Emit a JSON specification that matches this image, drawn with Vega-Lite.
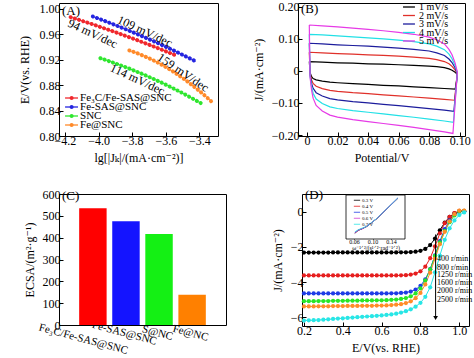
{
"$schema":"https://vega.github.io/schema/vega-lite/v6.json",
"padding":{"left":17,"top":0,"right":0,"bottom":0},
"spacing":22,
"resolve":{"scale":{"color":"independent","stroke":"independent"},"legend":{"color":"independent","stroke":"independent"}},
"config":{"font":"Times New Roman, Liberation Serif, DejaVu Serif, serif","view":{"stroke":"#000","strokeWidth":1},
"axis":{"grid":false,"domain":false,"tickSize":-4,"tickColor":"#000","labelColor":"#000","titleColor":"#000","labelFontSize":12,"titleFontSize":12,"titleFontWeight":"normal","labelPadding":3,"titlePadding":6,"labelOverlap":false,"labelFont":"Times New Roman, Liberation Serif, DejaVu Serif, serif","titleFont":"Times New Roman, Liberation Serif, DejaVu Serif, serif"},
"legend":{"labelFont":"Times New Roman, Liberation Serif, DejaVu Serif, serif","labelColor":"#000"},
"text":{"font":"Times New Roman, Liberation Serif, DejaVu Serif, serif"},
"title":{"font":"Times New Roman, Liberation Serif, DejaVu Serif, serif","fontWeight":"normal","fontSize":13,"color":"#000","frame":"group"}},
"datasets":{
"tafel":[
{"s":"Fe₃C/Fe-SAS@SNC","x":-4.166,"y":0.9867},{"s":"Fe₃C/Fe-SAS@SNC","x":-4.124,"y":0.9832},{"s":"Fe₃C/Fe-SAS@SNC","x":-4.083,"y":0.9796},{"s":"Fe₃C/Fe-SAS@SNC","x":-4.041,"y":0.976},{"s":"Fe₃C/Fe-SAS@SNC","x":-3.999,"y":0.9722},{"s":"Fe₃C/Fe-SAS@SNC","x":-3.958,"y":0.9684},{"s":"Fe₃C/Fe-SAS@SNC","x":-3.916,"y":0.9646},{"s":"Fe₃C/Fe-SAS@SNC","x":-3.874,"y":0.9606},{"s":"Fe₃C/Fe-SAS@SNC","x":-3.833,"y":0.9567},{"s":"Fe₃C/Fe-SAS@SNC","x":-3.791,"y":0.9526},{"s":"Fe₃C/Fe-SAS@SNC","x":-3.749,"y":0.9484},{"s":"Fe₃C/Fe-SAS@SNC","x":-3.708,"y":0.9442},{"s":"Fe₃C/Fe-SAS@SNC","x":-3.666,"y":0.94},{"s":"Fe₃C/Fe-SAS@SNC","x":-3.624,"y":0.9356},{"s":"Fe₃C/Fe-SAS@SNC","x":-3.583,"y":0.9312},{"s":"Fe₃C/Fe-SAS@SNC","x":-3.541,"y":0.9267},
{"s":"Fe-SAS@SNC","x":-4.034,"y":0.9878},{"s":"Fe-SAS@SNC","x":-3.993,"y":0.9838},{"s":"Fe-SAS@SNC","x":-3.953,"y":0.9797},{"s":"Fe-SAS@SNC","x":-3.912,"y":0.9755},{"s":"Fe-SAS@SNC","x":-3.871,"y":0.9712},{"s":"Fe-SAS@SNC","x":-3.83,"y":0.9668},{"s":"Fe-SAS@SNC","x":-3.79,"y":0.9623},{"s":"Fe-SAS@SNC","x":-3.749,"y":0.9577},{"s":"Fe-SAS@SNC","x":-3.708,"y":0.953},{"s":"Fe-SAS@SNC","x":-3.667,"y":0.9483},{"s":"Fe-SAS@SNC","x":-3.627,"y":0.9434},{"s":"Fe-SAS@SNC","x":-3.586,"y":0.9384},{"s":"Fe-SAS@SNC","x":-3.545,"y":0.9333},{"s":"Fe-SAS@SNC","x":-3.505,"y":0.9281},{"s":"Fe-SAS@SNC","x":-3.464,"y":0.9228},{"s":"Fe-SAS@SNC","x":-3.423,"y":0.9174},
{"s":"SNC","x":-3.989,"y":0.9222},{"s":"SNC","x":-3.949,"y":0.9187},{"s":"SNC","x":-3.91,"y":0.915},{"s":"SNC","x":-3.87,"y":0.9112},{"s":"SNC","x":-3.83,"y":0.9072},{"s":"SNC","x":-3.79,"y":0.903},{"s":"SNC","x":-3.751,"y":0.8987},{"s":"SNC","x":-3.711,"y":0.8941},{"s":"SNC","x":-3.671,"y":0.8894},{"s":"SNC","x":-3.631,"y":0.8846},{"s":"SNC","x":-3.592,"y":0.8796},{"s":"SNC","x":-3.552,"y":0.8743},{"s":"SNC","x":-3.512,"y":0.869},{"s":"SNC","x":-3.473,"y":0.8634},{"s":"SNC","x":-3.433,"y":0.8577},{"s":"SNC","x":-3.393,"y":0.8518},
{"s":"Fe@SNC","x":-3.817,"y":0.9344},{"s":"Fe@SNC","x":-3.785,"y":0.9315},{"s":"Fe@SNC","x":-3.752,"y":0.9282},{"s":"Fe@SNC","x":-3.72,"y":0.9245},{"s":"Fe@SNC","x":-3.687,"y":0.9206},{"s":"Fe@SNC","x":-3.655,"y":0.9163},{"s":"Fe@SNC","x":-3.622,"y":0.9116},{"s":"Fe@SNC","x":-3.59,"y":0.9066},{"s":"Fe@SNC","x":-3.557,"y":0.9013},{"s":"Fe@SNC","x":-3.525,"y":0.8956},{"s":"Fe@SNC","x":-3.492,"y":0.8896},{"s":"Fe@SNC","x":-3.46,"y":0.8832},{"s":"Fe@SNC","x":-3.427,"y":0.8765},{"s":"Fe@SNC","x":-3.395,"y":0.8695},{"s":"Fe@SNC","x":-3.362,"y":0.8621},{"s":"Fe@SNC","x":-3.33,"y":0.8544}
],
"legA":[{"s":"Fe₃C/Fe-SAS@SNC"},{"s":"Fe-SAS@SNC"},{"s":"SNC"},{"s":"Fe@SNC"}],
"legB":[{"r":"1 mV/s"},{"r":"2 mV/s"},{"r":"3 mV/s"},{"r":"4 mV/s"},{"r":"5 mV/s"}],
"notesA":[{"t":"109 mV/dec","x":-3.724,"y":0.9646},{"t":"94 mV/dec","x":-4.034,"y":0.9611},{"t":"114 mV/dec","x":-3.768,"y":0.889},{"t":"159 mV/dec","x":-3.497,"y":0.8998}],
"cv":[
{"r":"1 mV/s","o":1,"v":0.0015,"j":0.029},{"r":"1 mV/s","o":2,"v":0.01,"j":0.027},{"r":"1 mV/s","o":3,"v":0.02,"j":0.025},{"r":"1 mV/s","o":4,"v":0.03,"j":0.024},{"r":"1 mV/s","o":5,"v":0.04,"j":0.022},{"r":"1 mV/s","o":6,"v":0.05,"j":0.021},{"r":"1 mV/s","o":7,"v":0.06,"j":0.019},{"r":"1 mV/s","o":8,"v":0.07,"j":0.017},{"r":"1 mV/s","o":9,"v":0.08,"j":0.015},{"r":"1 mV/s","o":10,"v":0.085,"j":0.013},{"r":"1 mV/s","o":11,"v":0.09,"j":0.01},{"r":"1 mV/s","o":12,"v":0.093,"j":0.006},{"r":"1 mV/s","o":13,"v":0.095,"j":0.002},{"r":"1 mV/s","o":14,"v":0.097,"j":-0.004},{"r":"1 mV/s","o":15,"v":0.0985,"j":-0.012},
{"r":"1 mV/s","o":16,"v":0.0971,"j":-0.057},{"r":"1 mV/s","o":17,"v":0.09,"j":-0.055},{"r":"1 mV/s","o":18,"v":0.08,"j":-0.052},{"r":"1 mV/s","o":19,"v":0.07,"j":-0.05},{"r":"1 mV/s","o":20,"v":0.06,"j":-0.047},{"r":"1 mV/s","o":21,"v":0.05,"j":-0.045},{"r":"1 mV/s","o":22,"v":0.04,"j":-0.042},{"r":"1 mV/s","o":23,"v":0.03,"j":-0.04},{"r":"1 mV/s","o":24,"v":0.02,"j":-0.037},{"r":"1 mV/s","o":25,"v":0.015,"j":-0.035},{"r":"1 mV/s","o":26,"v":0.01,"j":-0.032},{"r":"1 mV/s","o":27,"v":0.006,"j":-0.028},{"r":"1 mV/s","o":28,"v":0.004,"j":-0.024},{"r":"1 mV/s","o":29,"v":0.003,"j":-0.018},{"r":"1 mV/s","o":30,"v":0.002,"j":-0.005},{"r":"1 mV/s","o":31,"v":0.0015,"j":0.029},
{"r":"2 mV/s","o":1,"v":0.0015,"j":0.058},{"r":"2 mV/s","o":2,"v":0.01,"j":0.056},{"r":"2 mV/s","o":3,"v":0.02,"j":0.054},{"r":"2 mV/s","o":4,"v":0.03,"j":0.052},{"r":"2 mV/s","o":5,"v":0.04,"j":0.05},{"r":"2 mV/s","o":6,"v":0.05,"j":0.048},{"r":"2 mV/s","o":7,"v":0.06,"j":0.046},{"r":"2 mV/s","o":8,"v":0.07,"j":0.043},{"r":"2 mV/s","o":9,"v":0.08,"j":0.039},{"r":"2 mV/s","o":10,"v":0.085,"j":0.035},{"r":"2 mV/s","o":11,"v":0.09,"j":0.029},{"r":"2 mV/s","o":12,"v":0.093,"j":0.022},{"r":"2 mV/s","o":13,"v":0.095,"j":0.014},{"r":"2 mV/s","o":14,"v":0.097,"j":0.003},{"r":"2 mV/s","o":15,"v":0.0985,"j":-0.01},
{"r":"2 mV/s","o":16,"v":0.0966,"j":-0.0915},{"r":"2 mV/s","o":17,"v":0.09,"j":-0.0888},{"r":"2 mV/s","o":18,"v":0.08,"j":-0.0848},{"r":"2 mV/s","o":19,"v":0.07,"j":-0.0815},{"r":"2 mV/s","o":20,"v":0.06,"j":-0.0778},{"r":"2 mV/s","o":21,"v":0.05,"j":-0.0748},{"r":"2 mV/s","o":22,"v":0.04,"j":-0.071},{"r":"2 mV/s","o":23,"v":0.03,"j":-0.068},{"r":"2 mV/s","o":24,"v":0.02,"j":-0.0638},{"r":"2 mV/s","o":25,"v":0.015,"j":-0.0608},{"r":"2 mV/s","o":26,"v":0.01,"j":-0.0553},{"r":"2 mV/s","o":27,"v":0.006,"j":-0.048},{"r":"2 mV/s","o":28,"v":0.004,"j":-0.0393},{"r":"2 mV/s","o":29,"v":0.003,"j":-0.0285},{"r":"2 mV/s","o":30,"v":0.002,"j":-0.0088},{"r":"2 mV/s","o":31,"v":0.0015,"j":0.058},
{"r":"3 mV/s","o":1,"v":0.0015,"j":0.086},{"r":"3 mV/s","o":2,"v":0.01,"j":0.084},{"r":"3 mV/s","o":3,"v":0.02,"j":0.081},{"r":"3 mV/s","o":4,"v":0.03,"j":0.079},{"r":"3 mV/s","o":5,"v":0.04,"j":0.077},{"r":"3 mV/s","o":6,"v":0.05,"j":0.074},{"r":"3 mV/s","o":7,"v":0.06,"j":0.071},{"r":"3 mV/s","o":8,"v":0.07,"j":0.067},{"r":"3 mV/s","o":9,"v":0.08,"j":0.062},{"r":"3 mV/s","o":10,"v":0.085,"j":0.056},{"r":"3 mV/s","o":11,"v":0.09,"j":0.048},{"r":"3 mV/s","o":12,"v":0.093,"j":0.037},{"r":"3 mV/s","o":13,"v":0.095,"j":0.026},{"r":"3 mV/s","o":14,"v":0.097,"j":0.01},{"r":"3 mV/s","o":15,"v":0.0985,"j":-0.008},
{"r":"3 mV/s","o":16,"v":0.0962,"j":-0.126},{"r":"3 mV/s","o":17,"v":0.09,"j":-0.1225},{"r":"3 mV/s","o":18,"v":0.08,"j":-0.1175},{"r":"3 mV/s","o":19,"v":0.07,"j":-0.113},{"r":"3 mV/s","o":20,"v":0.06,"j":-0.1085},{"r":"3 mV/s","o":21,"v":0.05,"j":-0.1045},{"r":"3 mV/s","o":22,"v":0.04,"j":-0.1},{"r":"3 mV/s","o":23,"v":0.03,"j":-0.096},{"r":"3 mV/s","o":24,"v":0.02,"j":-0.0905},{"r":"3 mV/s","o":25,"v":0.015,"j":-0.0865},{"r":"3 mV/s","o":26,"v":0.01,"j":-0.0785},{"r":"3 mV/s","o":27,"v":0.006,"j":-0.068},{"r":"3 mV/s","o":28,"v":0.004,"j":-0.0545},{"r":"3 mV/s","o":29,"v":0.003,"j":-0.039},{"r":"3 mV/s","o":30,"v":0.002,"j":-0.0125},{"r":"3 mV/s","o":31,"v":0.0015,"j":0.086},
{"r":"4 mV/s","o":1,"v":0.0015,"j":0.114},{"r":"4 mV/s","o":2,"v":0.01,"j":0.112},{"r":"4 mV/s","o":3,"v":0.02,"j":0.109},{"r":"4 mV/s","o":4,"v":0.03,"j":0.106},{"r":"4 mV/s","o":5,"v":0.04,"j":0.103},{"r":"4 mV/s","o":6,"v":0.05,"j":0.1},{"r":"4 mV/s","o":7,"v":0.06,"j":0.096},{"r":"4 mV/s","o":8,"v":0.07,"j":0.091},{"r":"4 mV/s","o":9,"v":0.08,"j":0.084},{"r":"4 mV/s","o":10,"v":0.085,"j":0.077},{"r":"4 mV/s","o":11,"v":0.09,"j":0.066},{"r":"4 mV/s","o":12,"v":0.093,"j":0.052},{"r":"4 mV/s","o":13,"v":0.095,"j":0.038},{"r":"4 mV/s","o":14,"v":0.097,"j":0.017},{"r":"4 mV/s","o":15,"v":0.0985,"j":-0.006},
{"r":"4 mV/s","o":16,"v":0.0959,"j":-0.1605},{"r":"4 mV/s","o":17,"v":0.09,"j":-0.1563},{"r":"4 mV/s","o":18,"v":0.08,"j":-0.1503},{"r":"4 mV/s","o":19,"v":0.07,"j":-0.1445},{"r":"4 mV/s","o":20,"v":0.06,"j":-0.1393},{"r":"4 mV/s","o":21,"v":0.05,"j":-0.1343},{"r":"4 mV/s","o":22,"v":0.04,"j":-0.129},{"r":"4 mV/s","o":23,"v":0.03,"j":-0.124},{"r":"4 mV/s","o":24,"v":0.02,"j":-0.1173},{"r":"4 mV/s","o":25,"v":0.015,"j":-0.1123},{"r":"4 mV/s","o":26,"v":0.01,"j":-0.1018},{"r":"4 mV/s","o":27,"v":0.006,"j":-0.088},{"r":"4 mV/s","o":28,"v":0.004,"j":-0.0698},{"r":"4 mV/s","o":29,"v":0.003,"j":-0.0495},{"r":"4 mV/s","o":30,"v":0.002,"j":-0.0163},{"r":"4 mV/s","o":31,"v":0.0015,"j":0.114},
{"r":"5 mV/s","o":1,"v":0.0015,"j":0.143},{"r":"5 mV/s","o":2,"v":0.01,"j":0.14},{"r":"5 mV/s","o":3,"v":0.02,"j":0.137},{"r":"5 mV/s","o":4,"v":0.03,"j":0.133},{"r":"5 mV/s","o":5,"v":0.04,"j":0.129},{"r":"5 mV/s","o":6,"v":0.05,"j":0.125},{"r":"5 mV/s","o":7,"v":0.06,"j":0.12},{"r":"5 mV/s","o":8,"v":0.07,"j":0.114},{"r":"5 mV/s","o":9,"v":0.08,"j":0.105},{"r":"5 mV/s","o":10,"v":0.085,"j":0.097},{"r":"5 mV/s","o":11,"v":0.09,"j":0.084},{"r":"5 mV/s","o":12,"v":0.093,"j":0.067},{"r":"5 mV/s","o":13,"v":0.095,"j":0.05},{"r":"5 mV/s","o":14,"v":0.097,"j":0.025},{"r":"5 mV/s","o":15,"v":0.0985,"j":-0.004},
{"r":"5 mV/s","o":16,"v":0.0956,"j":-0.195},{"r":"5 mV/s","o":17,"v":0.09,"j":-0.19},{"r":"5 mV/s","o":18,"v":0.08,"j":-0.183},{"r":"5 mV/s","o":19,"v":0.07,"j":-0.176},{"r":"5 mV/s","o":20,"v":0.06,"j":-0.17},{"r":"5 mV/s","o":21,"v":0.05,"j":-0.164},{"r":"5 mV/s","o":22,"v":0.04,"j":-0.158},{"r":"5 mV/s","o":23,"v":0.03,"j":-0.152},{"r":"5 mV/s","o":24,"v":0.02,"j":-0.144},{"r":"5 mV/s","o":25,"v":0.015,"j":-0.138},{"r":"5 mV/s","o":26,"v":0.01,"j":-0.125},{"r":"5 mV/s","o":27,"v":0.006,"j":-0.108},{"r":"5 mV/s","o":28,"v":0.004,"j":-0.085},{"r":"5 mV/s","o":29,"v":0.003,"j":-0.06},{"r":"5 mV/s","o":30,"v":0.002,"j":-0.02},{"r":"5 mV/s","o":31,"v":0.0015,"j":0.143}
],
"ecsa":[{"c":"Fe₃C/Fe-SAS@SNC","v":535},{"c":"Fe-SAS@SNC","v":475},{"c":"S@NC","v":417},{"c":"Fe@NC","v":139}],
"lsv":[
{"r":"400","e":0.2,"j":-2.33},{"r":"400","e":0.225,"j":-2.33},{"r":"400","e":0.25,"j":-2.33},{"r":"400","e":0.275,"j":-2.33},{"r":"400","e":0.3,"j":-2.33},{"r":"400","e":0.325,"j":-2.33},{"r":"400","e":0.35,"j":-2.32},{"r":"400","e":0.375,"j":-2.32},{"r":"400","e":0.4,"j":-2.32},{"r":"400","e":0.425,"j":-2.32},{"r":"400","e":0.45,"j":-2.32},{"r":"400","e":0.475,"j":-2.32},{"r":"400","e":0.5,"j":-2.32},{"r":"400","e":0.525,"j":-2.32},{"r":"400","e":0.55,"j":-2.32},{"r":"400","e":0.575,"j":-2.32},{"r":"400","e":0.6,"j":-2.32},{"r":"400","e":0.625,"j":-2.32},{"r":"400","e":0.65,"j":-2.32},{"r":"400","e":0.675,"j":-2.32},{"r":"400","e":0.7,"j":-2.31},{"r":"400","e":0.725,"j":-2.31},{"r":"400","e":0.75,"j":-2.3},{"r":"400","e":0.775,"j":-2.28},{"r":"400","e":0.8,"j":-2.23},{"r":"400","e":0.825,"j":-2.12},{"r":"400","e":0.85,"j":-1.9},{"r":"400","e":0.875,"j":-1.53},{"r":"400","e":0.9,"j":-1.06},{"r":"400","e":0.925,"j":-0.62},{"r":"400","e":0.95,"j":-0.3},{"r":"400","e":0.975,"j":-0.1},{"r":"400","e":1.0,"j":0.0},{"r":"400","e":1.025,"j":0.02},
{"r":"800","e":0.2,"j":-3.63},{"r":"800","e":0.225,"j":-3.63},{"r":"800","e":0.25,"j":-3.63},{"r":"800","e":0.275,"j":-3.63},{"r":"800","e":0.3,"j":-3.63},{"r":"800","e":0.325,"j":-3.63},{"r":"800","e":0.35,"j":-3.63},{"r":"800","e":0.375,"j":-3.63},{"r":"800","e":0.4,"j":-3.63},{"r":"800","e":0.425,"j":-3.63},{"r":"800","e":0.45,"j":-3.63},{"r":"800","e":0.475,"j":-3.63},{"r":"800","e":0.5,"j":-3.63},{"r":"800","e":0.525,"j":-3.63},{"r":"800","e":0.55,"j":-3.63},{"r":"800","e":0.575,"j":-3.63},{"r":"800","e":0.6,"j":-3.63},{"r":"800","e":0.625,"j":-3.63},{"r":"800","e":0.65,"j":-3.63},{"r":"800","e":0.675,"j":-3.63},{"r":"800","e":0.7,"j":-3.62},{"r":"800","e":0.725,"j":-3.61},{"r":"800","e":0.75,"j":-3.58},{"r":"800","e":0.775,"j":-3.52},{"r":"800","e":0.8,"j":-3.39},{"r":"800","e":0.825,"j":-3.13},{"r":"800","e":0.85,"j":-2.65},{"r":"800","e":0.875,"j":-1.97},{"r":"800","e":0.9,"j":-1.23},{"r":"800","e":0.925,"j":-0.66},{"r":"800","e":0.95,"j":-0.3},{"r":"800","e":0.975,"j":-0.08},{"r":"800","e":1.0,"j":0.04},{"r":"800","e":1.025,"j":0.04},
{"r":"1250","e":0.2,"j":-4.65},{"r":"1250","e":0.225,"j":-4.65},{"r":"1250","e":0.25,"j":-4.65},{"r":"1250","e":0.275,"j":-4.65},{"r":"1250","e":0.3,"j":-4.65},{"r":"1250","e":0.325,"j":-4.65},{"r":"1250","e":0.35,"j":-4.65},{"r":"1250","e":0.375,"j":-4.65},{"r":"1250","e":0.4,"j":-4.65},{"r":"1250","e":0.425,"j":-4.65},{"r":"1250","e":0.45,"j":-4.65},{"r":"1250","e":0.475,"j":-4.65},{"r":"1250","e":0.5,"j":-4.65},{"r":"1250","e":0.525,"j":-4.65},{"r":"1250","e":0.55,"j":-4.65},{"r":"1250","e":0.575,"j":-4.65},{"r":"1250","e":0.6,"j":-4.65},{"r":"1250","e":0.625,"j":-4.65},{"r":"1250","e":0.65,"j":-4.64},{"r":"1250","e":0.675,"j":-4.64},{"r":"1250","e":0.7,"j":-4.62},{"r":"1250","e":0.725,"j":-4.6},{"r":"1250","e":0.75,"j":-4.54},{"r":"1250","e":0.775,"j":-4.43},{"r":"1250","e":0.8,"j":-4.22},{"r":"1250","e":0.825,"j":-3.85},{"r":"1250","e":0.85,"j":-3.27},{"r":"1250","e":0.875,"j":-2.49},{"r":"1250","e":0.9,"j":-1.68},{"r":"1250","e":0.925,"j":-1.0},{"r":"1250","e":0.95,"j":-0.5},{"r":"1250","e":0.975,"j":-0.17},{"r":"1250","e":1.0,"j":0.0},{"r":"1250","e":1.025,"j":0.02},
{"r":"1600","e":0.2,"j":-5.09},{"r":"1600","e":0.225,"j":-5.09},{"r":"1600","e":0.25,"j":-5.09},{"r":"1600","e":0.275,"j":-5.08},{"r":"1600","e":0.3,"j":-5.08},{"r":"1600","e":0.325,"j":-5.08},{"r":"1600","e":0.35,"j":-5.07},{"r":"1600","e":0.375,"j":-5.07},{"r":"1600","e":0.4,"j":-5.07},{"r":"1600","e":0.425,"j":-5.06},{"r":"1600","e":0.45,"j":-5.06},{"r":"1600","e":0.475,"j":-5.06},{"r":"1600","e":0.5,"j":-5.05},{"r":"1600","e":0.525,"j":-5.05},{"r":"1600","e":0.55,"j":-5.05},{"r":"1600","e":0.575,"j":-5.04},{"r":"1600","e":0.6,"j":-5.04},{"r":"1600","e":0.625,"j":-5.03},{"r":"1600","e":0.65,"j":-5.01},{"r":"1600","e":0.675,"j":-5.0},{"r":"1600","e":0.7,"j":-4.96},{"r":"1600","e":0.725,"j":-4.91},{"r":"1600","e":0.75,"j":-4.81},{"r":"1600","e":0.775,"j":-4.65},{"r":"1600","e":0.8,"j":-4.36},{"r":"1600","e":0.825,"j":-3.91},{"r":"1600","e":0.85,"j":-3.28},{"r":"1600","e":0.875,"j":-2.52},{"r":"1600","e":0.9,"j":-1.75},{"r":"1600","e":0.925,"j":-1.1},{"r":"1600","e":0.95,"j":-0.6},{"r":"1600","e":0.975,"j":-0.22},{"r":"1600","e":1.0,"j":0.02},{"r":"1600","e":1.025,"j":0.04},
{"r":"2000","e":0.2,"j":-5.39},{"r":"2000","e":0.225,"j":-5.39},{"r":"2000","e":0.25,"j":-5.39},{"r":"2000","e":0.275,"j":-5.38},{"r":"2000","e":0.3,"j":-5.38},{"r":"2000","e":0.325,"j":-5.38},{"r":"2000","e":0.35,"j":-5.37},{"r":"2000","e":0.375,"j":-5.37},{"r":"2000","e":0.4,"j":-5.37},{"r":"2000","e":0.425,"j":-5.36},{"r":"2000","e":0.45,"j":-5.36},{"r":"2000","e":0.475,"j":-5.36},{"r":"2000","e":0.5,"j":-5.35},{"r":"2000","e":0.525,"j":-5.35},{"r":"2000","e":0.55,"j":-5.35},{"r":"2000","e":0.575,"j":-5.34},{"r":"2000","e":0.6,"j":-5.34},{"r":"2000","e":0.625,"j":-5.33},{"r":"2000","e":0.65,"j":-5.31},{"r":"2000","e":0.675,"j":-5.29},{"r":"2000","e":0.7,"j":-5.26},{"r":"2000","e":0.725,"j":-5.2},{"r":"2000","e":0.75,"j":-5.1},{"r":"2000","e":0.775,"j":-4.92},{"r":"2000","e":0.8,"j":-4.62},{"r":"2000","e":0.825,"j":-4.14},{"r":"2000","e":0.85,"j":-3.47},{"r":"2000","e":0.875,"j":-2.67},{"r":"2000","e":0.9,"j":-1.85},{"r":"2000","e":0.925,"j":-1.15},{"r":"2000","e":0.95,"j":-0.55},{"r":"2000","e":0.975,"j":-0.15},{"r":"2000","e":1.0,"j":0.05},{"r":"2000","e":1.025,"j":0.06},
{"r":"2500","e":0.2,"j":-6.19},{"r":"2500","e":0.225,"j":-6.18},{"r":"2500","e":0.25,"j":-6.17},{"r":"2500","e":0.275,"j":-6.16},{"r":"2500","e":0.3,"j":-6.14},{"r":"2500","e":0.325,"j":-6.12},{"r":"2500","e":0.35,"j":-6.1},{"r":"2500","e":0.375,"j":-6.08},{"r":"2500","e":0.4,"j":-6.06},{"r":"2500","e":0.425,"j":-6.04},{"r":"2500","e":0.45,"j":-6.02},{"r":"2500","e":0.475,"j":-6.0},{"r":"2500","e":0.5,"j":-5.98},{"r":"2500","e":0.525,"j":-5.96},{"r":"2500","e":0.55,"j":-5.94},{"r":"2500","e":0.575,"j":-5.92},{"r":"2500","e":0.6,"j":-5.9},{"r":"2500","e":0.625,"j":-5.87},{"r":"2500","e":0.65,"j":-5.84},{"r":"2500","e":0.675,"j":-5.8},{"r":"2500","e":0.7,"j":-5.74},{"r":"2500","e":0.725,"j":-5.66},{"r":"2500","e":0.75,"j":-5.55},{"r":"2500","e":0.775,"j":-5.4},{"r":"2500","e":0.8,"j":-5.18},{"r":"2500","e":0.825,"j":-4.84},{"r":"2500","e":0.85,"j":-4.3},{"r":"2500","e":0.875,"j":-3.45},{"r":"2500","e":0.9,"j":-2.5},{"r":"2500","e":0.925,"j":-1.6},{"r":"2500","e":0.95,"j":-0.95},{"r":"2500","e":0.975,"j":-0.5},{"r":"2500","e":1.0,"j":-0.2},{"r":"2500","e":1.025,"j":-0.05}
],
"rpm":[{"t":"400 r/min","e":0.885,"j":-2.72},{"t":"800 r/min","e":0.885,"j":-3.18},{"t":"1250 r/min","e":0.885,"j":-3.62},{"t":"1600 r/min","e":0.885,"j":-4.06},{"t":"2000 r/min","e":0.885,"j":-4.52},{"t":"2500 r/min","e":0.885,"j":-5.0}],
"kl":[
{"p":"0.3 V","w":0.0618,"ij":0.163},{"p":"0.3 V","w":0.0691,"ij":0.186},{"p":"0.3 V","w":0.0773,"ij":0.197},{"p":"0.3 V","w":0.0874,"ij":0.215},{"p":"0.3 V","w":0.1093,"ij":0.275},{"p":"0.3 V","w":0.1545,"ij":0.429},
{"p":"0.4 V","w":0.0618,"ij":0.165},{"p":"0.4 V","w":0.0691,"ij":0.186},{"p":"0.4 V","w":0.0773,"ij":0.197},{"p":"0.4 V","w":0.0874,"ij":0.215},{"p":"0.4 V","w":0.1093,"ij":0.275},{"p":"0.4 V","w":0.1545,"ij":0.43},
{"p":"0.5 V","w":0.0618,"ij":0.167},{"p":"0.5 V","w":0.0691,"ij":0.187},{"p":"0.5 V","w":0.0773,"ij":0.198},{"p":"0.5 V","w":0.0874,"ij":0.215},{"p":"0.5 V","w":0.1093,"ij":0.276},{"p":"0.5 V","w":0.1545,"ij":0.431},
{"p":"0.6 V","w":0.0618,"ij":0.169},{"p":"0.6 V","w":0.0691,"ij":0.187},{"p":"0.6 V","w":0.0773,"ij":0.198},{"p":"0.6 V","w":0.0874,"ij":0.216},{"p":"0.6 V","w":0.1093,"ij":0.276},{"p":"0.6 V","w":0.1545,"ij":0.432},
{"p":"0.7 V","w":0.0618,"ij":0.174},{"p":"0.7 V","w":0.0691,"ij":0.19},{"p":"0.7 V","w":0.0773,"ij":0.202},{"p":"0.7 V","w":0.0874,"ij":0.216},{"p":"0.7 V","w":0.1093,"ij":0.276},{"p":"0.7 V","w":0.1545,"ij":0.433}
]
},
"vconcat":[
{"hconcat":[
{"width":159,"height":133,
"title":{"text":"(A)","anchor":"start","offset":-15,"dx":3},
"layer":[
{"data":{"name":"tafel"},
"encoding":{
"x":{"field":"x","type":"quantitative","scale":{"domain":[-4.235,-3.29],"nice":false,"zero":false},"axis":{"values":[-4.2,-4.0,-3.8,-3.6,-3.4],"format":".1f","title":"lg[|Jₖ|/(mA·cm⁻²)]"}},
"y":{"field":"y","type":"quantitative","scale":{"domain":[0.8,1.009],"nice":false,"zero":false},"axis":{"values":[0.8,0.84,0.88,0.92,0.96,1.0],"format":".2f","title":"E/V(vs. RHE)","titlePadding":8}}},
"layer":[
{"mark":{"type":"line","strokeWidth":1},
"encoding":{"color":{"field":"s","type":"nominal","scale":{"domain":["Fe₃C/Fe-SAS@SNC","Fe-SAS@SNC","SNC","Fe@SNC"],"range":["#f0282d","#2525e0","#2fe62f","#ff8a2a"]},"legend":null}}},
{"mark":{"type":"line","strokeWidth":4,"strokeCap":"round","strokeDash":[0.1,4.3]},
"encoding":{"color":{"field":"s","type":"nominal","legend":null}}},
{"data":{"name":"notesA"},"transform":[{"filter":"datum.t != '159 mV/dec'"}],
"mark":{"type":"text","angle":25,"fontSize":12,"align":"center","baseline":"middle"},
"encoding":{"text":{"field":"t"}}},
{"data":{"name":"notesA"},"transform":[{"filter":"datum.t == '159 mV/dec'"}],
"mark":{"type":"text","angle":34,"fontSize":12,"align":"center","baseline":"middle"},
"encoding":{"text":{"field":"t"}}}
]},
{"data":{"name":"legA"},
"encoding":{"y":{"field":"s","type":"nominal","sort":null,"scale":{"type":"point","domain":["Fe₃C/Fe-SAS@SNC","Fe-SAS@SNC","SNC","Fe@SNC"],"range":[95,122],"padding":0},"axis":null}},
"layer":[
{"mark":{"type":"rule","strokeWidth":1.3},"encoding":{"x":{"datum":-4.199,"type":"quantitative","axis":{"values":[-4.2,-4.0,-3.8,-3.6,-3.4],"format":".1f","title":"lg[|Jₖ|/(mA·cm⁻²)]"}},"x2":{"datum":-4.122},"color":{"field":"s","type":"nominal","legend":null}}},
{"mark":{"type":"circle","size":16,"opacity":1},"encoding":{"x":{"datum":-4.16,"type":"quantitative","axis":{"values":[-4.2,-4.0,-3.8,-3.6,-3.4],"format":".1f","title":"lg[|Jₖ|/(mA·cm⁻²)]"}},"color":{"field":"s","type":"nominal","legend":null}}},
{"mark":{"type":"text","align":"left","baseline":"middle","fontSize":11},"encoding":{"x":{"datum":-4.11,"type":"quantitative","axis":{"values":[-4.2,-4.0,-3.8,-3.6,-3.4],"format":".1f","title":"lg[|Jₖ|/(mA·cm⁻²)]"}},"text":{"field":"s"}}}
]}
],
"resolve":{"scale":{"y":"independent"},"axis":{"y":"independent"}}},
{"width":167,"height":133,
"title":{"text":"(B)","anchor":"start","offset":-15,"dx":3},
"layer":[
{"data":{"name":"cv"},
"mark":{"type":"line","strokeWidth":1.2},
"encoding":{
"x":{"field":"v","type":"quantitative","scale":{"domain":[-0.0059,0.1035],"nice":false,"zero":false},"axis":{"values":[0,0.02,0.04,0.06,0.08,0.1],"labelExpr":"datum.value == 0 ? '0' : format(datum.value, '.2f')","title":"Potential/V"}},
"y":{"field":"j","type":"quantitative","scale":{"domain":[-0.203,0.2115],"nice":false,"zero":false},"axis":{"values":[-0.2,-0.1,0,0.1,0.2],"labelExpr":"datum.value == 0 ? '0' : format(datum.value, '.2f')","title":"J/(mA·cm⁻²)"}},
"order":{"field":"o","type":"quantitative"},
"color":{"field":"r","type":"nominal","scale":{"domain":["1 mV/s","2 mV/s","3 mV/s","4 mV/s","5 mV/s"],"range":["#000000","#e0302a","#1c1c9c","#22e0e6","#e63ae6"]},"legend":null}}},
{"data":{"name":"legB"},
"encoding":{"y":{"field":"r","type":"nominal","sort":null,"scale":{"type":"point","domain":["1 mV/s","2 mV/s","3 mV/s","4 mV/s","5 mV/s"],"range":[4,38],"padding":0},"axis":null}},
"layer":[
{"mark":{"type":"rule","strokeWidth":1.3},"encoding":{"x":{"datum":0.0629,"type":"quantitative","axis":{"values":[0,0.02,0.04,0.06,0.08,0.1],"labelExpr":"datum.value == 0 ? '0' : format(datum.value, '.2f')","title":"Potential/V"}},"x2":{"datum":0.0707},"color":{"field":"r","type":"nominal","legend":null}}},
{"mark":{"type":"text","align":"left","baseline":"middle","fontSize":10},"encoding":{"x":{"datum":0.0733,"type":"quantitative","axis":{"values":[0,0.02,0.04,0.06,0.08,0.1],"labelExpr":"datum.value == 0 ? '0' : format(datum.value, '.2f')","title":"Potential/V"}},"text":{"field":"r"}}}
]}
],
"resolve":{"scale":{"y":"independent"},"axis":{"y":"independent"}}}
],"spacing":31,"resolve":{"scale":{"color":"independent","stroke":"independent"},"legend":{"color":"independent","stroke":"independent"}}},
{"hconcat":[
{"width":167,"height":131,
"title":{"text":"(C)","anchor":"start","offset":-15,"dx":3},
"data":{"name":"ecsa"},
"mark":{"type":"bar"},
"encoding":{
"x":{"field":"c","type":"nominal","sort":null,"scale":{"paddingInner":0.17,"paddingOuter":0.61},"axis":{"title":null,"ticks":false,"labelAngle":15,"labelAlign":"center","labelBaseline":"top","labelFontSize":11,"labelPadding":{"condition":{"test":"datum.value === 'Fe₃C/Fe-SAS@SNC'","value":8},"value":2},"labelOffset":{"condition":{"test":"datum.value === 'Fe₃C/Fe-SAS@SNC'","value":-8},"value":0}}},
"y":{"field":"v","type":"quantitative","scale":{"domain":[0,600],"nice":false},"axis":{"values":[0,100,200,300,400,500,600],"title":"ECSA/(m²·g⁻¹)"}},
"color":{"field":"c","type":"nominal","sort":null,"scale":{"domain":["Fe₃C/Fe-SAS@SNC","Fe-SAS@SNC","S@NC","Fe@NC"],"range":["#ff0000","#1414ff","#14f014","#ff8000"]},"legend":null}}},
{"width":167,"height":132,
"title":{"text":"(D)","anchor":"start","offset":-15,"dx":3},
"layer":[
{"layer":[
{"data":{"name":"lsv"},"mark":{"type":"line","strokeWidth":1},
"encoding":{"x":{"field":"e","type":"quantitative","scale":{"domain":[0.19,1.05],"nice":false,"zero":false},"axis":{"values":[0.2,0.4,0.6,0.8,1.0],"format":".1f","title":"E/V(vs. RHE)"}},
"y":{"field":"j","type":"quantitative","scale":{"domain":[-6.5,1.0],"nice":false,"zero":false},"axis":{"values":[0,-2,-4,-6],"title":"J/(mA·cm⁻²)"}},
"color":{"field":"r","type":"nominal","scale":{"domain":["400","800","1250","1600","2000","2500"],"range":["#000000","#e61e1e","#1e3ce6","#28e628","#ff8c28","#28e6e6"]},"legend":null}}},
{"data":{"name":"lsv"},"mark":{"type":"circle","size":18,"opacity":1},
"encoding":{"x":{"field":"e","type":"quantitative"},"y":{"field":"j","type":"quantitative"},"color":{"field":"r","type":"nominal","legend":null}}},
{"data":{"name":"rpm"},"mark":{"type":"text","fontSize":8,"align":"left","baseline":"middle"},
"encoding":{"x":{"field":"e","type":"quantitative"},"y":{"field":"j","type":"quantitative"},"text":{"field":"t"}}},
{"data":{"values":[{"t":" "}]},"mark":{"type":"text","fontSize":7,"align":"left","baseline":"bottom"},
"encoding":{"x":{"datum":0.2,"type":"quantitative"},"y":{"datum":1.0,"type":"quantitative"},"text":{"field":"t"}}},
{"data":{"values":[{"e":0.878,"j":-1.3,"j2":-6.0}]},"mark":{"type":"rule","color":"#000","strokeWidth":1},
"encoding":{"x":{"field":"e","type":"quantitative"},"y":{"field":"j","type":"quantitative"},"y2":{"field":"j2"}}},
{"data":{"values":[{"e":0.878,"j":-6.05}]},"mark":{"type":"point","shape":"triangle-down","filled":true,"color":"#000","size":22,"opacity":1},
"encoding":{"x":{"field":"e","type":"quantitative"},"y":{"field":"j","type":"quantitative"}}}
]},
{"layer":[
{"data":{"values":[{"a":1}]},"mark":{"type":"rect","fill":"#fff","stroke":"#000","strokeWidth":0.8},
"encoding":{"x":{"datum":0.0427,"type":"quantitative","scale":{"domain":[0.0427,0.17],"range":[44,103],"nice":false,"zero":false},"axis":{"orient":"bottom","offset":-87,"values":[0.06,0.1,0.14],"format":".2f","labelFontSize":6,"titleFontSize":6,"title":"ω⁻¹ᐟ²/(s¹ᐟ²·rad⁻¹ᐟ²)","labelPadding":1,"titlePadding":0,"tickSize":-2}},
"x2":{"datum":0.17},
"y":{"datum":0.1195,"type":"quantitative","scale":{"domain":[0.1195,0.455],"range":[45,1],"nice":false,"zero":false},"axis":{"orient":"left","offset":-83,"values":[0.2,0.3,0.4],"format":".2f","labelFontSize":6,"titleFontSize":5,"title":"J⁻¹/(cm²·mA⁻¹)","labelPadding":1,"titlePadding":22,"ticks":false}},
"y2":{"datum":0.455}}},
{"data":{"name":"kl"},"mark":{"type":"line","strokeWidth":0.8},
"encoding":{"x":{"field":"w","type":"quantitative"},"y":{"field":"ij","type":"quantitative"},
"color":{"field":"p","type":"nominal","scale":{"domain":["0.3 V","0.4 V","0.5 V","0.6 V","0.7 V"],"range":["#000000","#e61e1e","#1e3ce6","#d23cd2","#28e6e6"]},
"legend":{"title":null,"orient":"none","legendX":51,"legendY":4,"padding":0,"labelFontSize":5,"clipHeight":4.5,"rowPadding":0,"symbolType":"stroke","symbolSize":40,"symbolStrokeWidth":0.8,"labelOffset":1}}}}
]}
],
"resolve":{"scale":{"x":"independent","y":"independent","color":"independent"},"axis":{"x":"independent","y":"independent"},"legend":{"color":"independent"}}}
],"spacing":43,"resolve":{"scale":{"color":"independent","stroke":"independent"},"legend":{"color":"independent","stroke":"independent"}}}
]
}
